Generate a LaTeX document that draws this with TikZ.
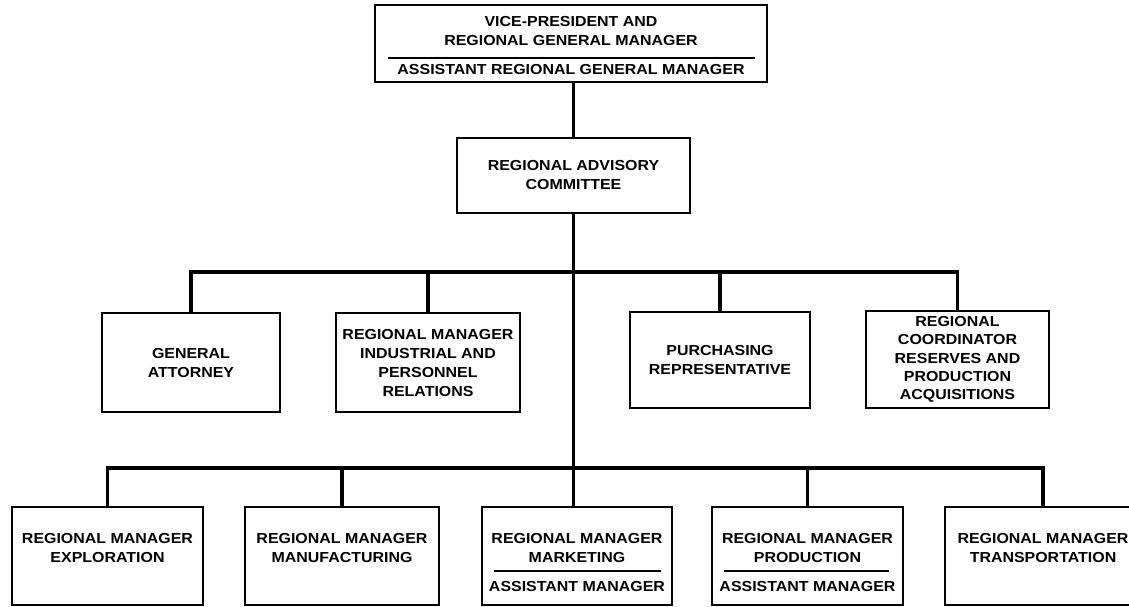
\documentclass[tikz,border=0pt]{standalone}
\usepackage{fontspec}
\setmainfont[FakeStretch=1.1]{Liberation Sans}
\usetikzlibrary{positioning}
\newcommand\orgfont{\bfseries\fontsize{14.5}{19}\selectfont}

\begin{document}
\begin{tikzpicture}[x=1pt,y=-1pt,
  box/.style={draw,line width=1.8pt,inner sep=0pt,align=center,font=\orgfont},
  lbl/.style={inner sep=0pt,align=center,font=\orgfont},
  wire/.style={line width=3.6pt},
  rule/.style={line width=2.8pt}]
  \useasboundingbox (0,0) rectangle (1129,606);
  % head of the region
  \node[box,minimum width=392,minimum height=77] (vp) at (571,43.5) {};
  \node[lbl] (vpt) at (571,31) {VICE-PRESIDENT AND\\REGIONAL GENERAL MANAGER};
  \node[lbl] (vpa) at (571,70) {ASSISTANT REGIONAL GENERAL MANAGER};
  \draw[rule] ([xshift=14pt,yshift=-14.5pt]vp.west) -- ([xshift=-13pt,yshift=-14.5pt]vp.east);
  \node[box,minimum width=233,minimum height=75] (adv) at (573.5,175.5) {REGIONAL ADVISORY\\COMMITTEE};
  % staff
  \node[box,minimum width=178,minimum height=99] (ga) at (191,362.5) {GENERAL\\ATTORNEY};
  \node[box,minimum width=184,minimum height=99] (ind) at (428,362.5) {REGIONAL MANAGER\\INDUSTRIAL AND\\PERSONNEL\\RELATIONS};
  \node[box,minimum width=180,minimum height=96] (pur) at (720,360) {PURCHASING\\REPRESENTATIVE};
  \node[box,minimum width=183,minimum height=97,font=\bfseries\fontsize{14.5}{18.2}\selectfont] (crd) at (957.5,359.5) {REGIONAL\\COORDINATOR\\RESERVES AND\\PRODUCTION\\ACQUISITIONS};
  % line managers
  \node[box,minimum width=191,minimum height=98] (exp) at (107.5,556) {};
  \node[box,minimum width=194,minimum height=98] (man) at (342,556) {};
  \node[box,minimum width=190,minimum height=98] (mkt) at (577,556) {};
  \node[box,minimum width=191,minimum height=98] (prd) at (807.5,556) {};
  \node[box,minimum width=196,minimum height=98] (trn) at (1043,556) {};
  \node[lbl] (expt) at (107.5,548) {REGIONAL MANAGER\\EXPLORATION};
  \node[lbl] (mant) at (342,548) {REGIONAL MANAGER\\MANUFACTURING};
  \node[lbl] (mktt) at (577,548) {REGIONAL MANAGER\\MARKETING};
  \node[lbl] (mkta) at (577,586) {ASSISTANT MANAGER};
  \node[lbl] (prdt) at (807.5,548) {REGIONAL MANAGER\\PRODUCTION};
  \node[lbl] (prda) at (807.5,586) {ASSISTANT MANAGER};
  \node[lbl] (trnt) at (1043,548) {REGIONAL MANAGER\\TRANSPORTATION};
  \draw[rule] ([xshift=13pt,yshift=-15pt]mkt.west) -- ([xshift=-12pt,yshift=-15pt]mkt.east);
  \draw[rule] ([xshift=13pt,yshift=-15pt]prd.west) -- ([xshift=-15pt,yshift=-15pt]prd.east);
  % connections
  \coordinate (bus1) at (573,272);
  \coordinate (bus2) at (573,468);
  \draw[wire] (vp.south -| adv.north) -- (adv.north);
  \draw[wire] (adv.south) -- (adv.south |- mkt.north);
  \draw[wire] (ga.north) |- (bus1) -| (crd.north);
  \draw[wire] (ind.north) -- (ind.north |- bus1);
  \draw[wire] (pur.north) -- (pur.north |- bus1);
  \draw[wire] (exp.north) |- (bus2) -| (trn.north);
  \draw[wire] (man.north) -- (man.north |- bus2);
  \draw[wire] (prd.north) -- (prd.north |- bus2);
\end{tikzpicture}
\end{document}
